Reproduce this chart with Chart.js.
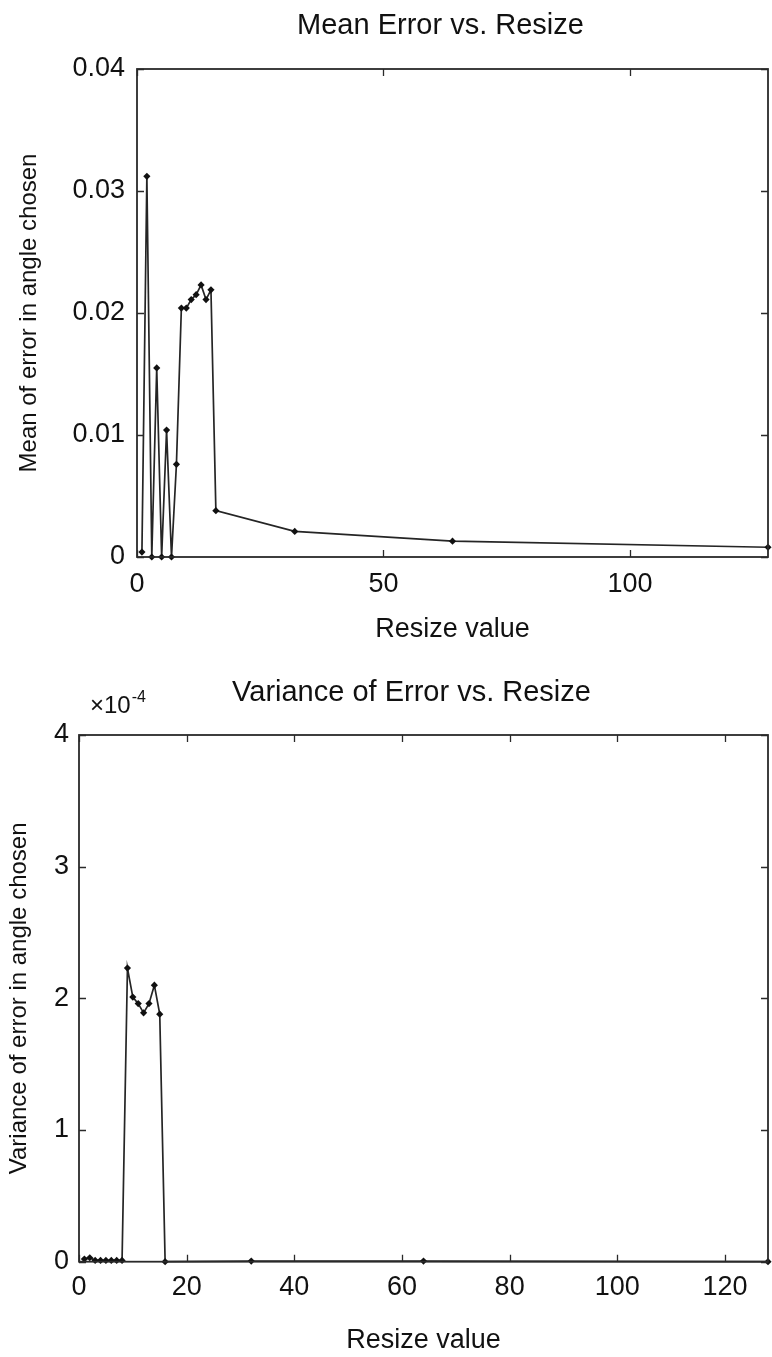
<!DOCTYPE html>
<html>
<head>
<meta charset="utf-8">
<script src="https://cdn.jsdelivr.net/npm/chart.js@4/dist/chart.umd.min.js"></script>
<style>
  html, body { margin: 0; padding: 0; background: #fff; }
  #wrap { position: relative; width: 772px; height: 1357px; }
  .box { position: absolute; left: 0; width: 772px; }
</style>
</head>
<body>
<div id="wrap">
  <div class="box" style="top:0;height:660px"><canvas id="c1"></canvas></div>
  <div class="box" style="top:660px;height:697px"><canvas id="c2"></canvas></div>
</div>
<script>
// ---- data ----
const resizeValues = [1,2,3,4,5,6,7,8,9,10,11,12,13,14,15,16,32,64,128];
const meanError = [0.0004,0.0312,0,0.0155,0,0.0104,0,0.0076,0.0204,0.0204,0.0211,0.0215,0.0223,0.0211,0.0219,0.0038,0.0021,0.0013,0.0008];
// variance in units of 1e-4
const varianceError = [0.02,0.03,0.01,0.01,0.01,0.01,0.01,0.01,2.23,2.01,1.96,1.89,1.96,2.10,1.88,0,0.005,0.005,0];
const meanXTicks = [0,50,100];
const meanYTicks = [0,0.01,0.02,0.03,0.04];
const varXTicks = [0,20,40,60,80,100,120];
const varYTicks = [0,1,2,3,4];

const FONT = "'Liberation Sans', Arial, Helvetica, sans-serif";
const INK = '#111';

const boxTicks = {
  id: 'boxTicks',
  afterDatasetsDraw(chart) {
    const {ctx, chartArea: a, scales} = chart;
    ctx.save();
    ctx.strokeStyle = '#2a2a2a';
    ctx.lineWidth = 1.3;
    const L = 7;
    ctx.beginPath();
    scales.x.ticks.forEach(t => {
      const px = Math.round(scales.x.getPixelForValue(t.value)) + 0.5;
      ctx.moveTo(px, a.bottom); ctx.lineTo(px, a.bottom - L);
      ctx.moveTo(px, a.top); ctx.lineTo(px, a.top + L);
    });
    scales.y.ticks.forEach(t => {
      const py = Math.round(scales.y.getPixelForValue(t.value)) + 0.5;
      ctx.moveTo(a.left, py); ctx.lineTo(a.left + L, py);
      ctx.moveTo(a.right, py); ctx.lineTo(a.right - L, py);
    });
    ctx.stroke();
    ctx.lineWidth = 1.8;
    ctx.strokeRect(a.left, a.top, a.right - a.left, a.bottom - a.top);
    ctx.restore();
  }
};

const headText = {
  id: 'headText',
  afterDraw(chart, args, opts) {
    const {ctx, chartArea: a} = chart;
    ctx.save();
    ctx.fillStyle = INK;
    ctx.textAlign = 'center';
    ctx.textBaseline = 'middle';
    ctx.font = `29px ${FONT}`;
    ctx.fillText(opts.title, (a.left + a.right) / 2 + opts.dx, opts.titleY);
    if (opts.exp) {
      ctx.textAlign = 'left';
      ctx.textBaseline = 'alphabetic';
      ctx.font = `24px ${FONT}`;
      ctx.fillText(opts.exp, opts.expX, opts.expY);
      const w = ctx.measureText(opts.exp).width;
      ctx.font = `16px ${FONT}`;
      ctx.fillText(opts.sup, opts.expX + w + 1, opts.expY - 11);
    }
    ctx.restore();
  }
};

function makeChart(id, cfg) {
  return new Chart(document.getElementById(id), {
    type: 'line',
    data: {
      datasets: [{
        data: resizeValues.map((x, i) => ({x, y: cfg.values[i]})),
        borderColor: '#252525',
        borderWidth: 1.7,
        pointStyle: 'rectRot',
        pointRadius: 3.6,
        pointBackgroundColor: '#111',
        pointBorderColor: '#111',
        pointBorderWidth: 0,
        tension: 0,
        fill: false,
        clip: false
      }]
    },
    options: {
      responsive: true,
      maintainAspectRatio: false,
      animation: false,
      events: [],
      layout: { padding: { left: 0, right: cfg.padRight, top: cfg.plotTop, bottom: 0 } },
      plugins: {
        legend: { display: false },
        tooltip: { enabled: false },
        title: { display: false },
        headText: cfg.head
      },
      scales: {
        x: {
          type: 'linear',
          min: 0, max: 128,
          afterBuildTicks: s => { s.ticks = cfg.xTicks.map(v => ({value: v})); },
          afterFit: s => { s.height = cfg.xAxisH; },
          grid: { display: false, drawTicks: false },
          border: { display: false },
          ticks: { color: INK, font: { family: FONT, size: 27 }, padding: cfg.xTickPad, maxRotation: 0, autoSkip: false },
          title: { display: true, text: 'Resize value', color: INK, font: { family: FONT, size: 27 }, padding: { top: 0, bottom: cfg.xTitlePad } }
        },
        y: {
          type: 'linear',
          min: cfg.yTicks[0], max: cfg.yTicks[cfg.yTicks.length - 1],
          afterBuildTicks: s => { s.ticks = cfg.yTicks.map(v => ({value: v})); },
          afterFit: s => { s.width = cfg.yAxisW; },
          grid: { display: false, drawTicks: false },
          border: { display: false },
          ticks: { color: INK, font: { family: FONT, size: 27 }, padding: cfg.yTickPad, autoSkip: false,
                   callback: v => String(v) },
          title: { display: true, text: cfg.yTitle, color: INK, font: { family: FONT, size: 24 }, padding: { top: cfg.yTitlePad, bottom: 0 } }
        }
      }
    },
    plugins: [boxTicks, headText]
  });
}

makeChart('c1', {
  values: meanError,
  plotTop: 69,
  head: { title: 'Mean Error vs. Resize', titleY: 26, dx: -12 },
  xTicks: meanXTicks, yTicks: meanYTicks,
  xAxisH: 103, yAxisW: 137, padRight: 4,
  xTickPad: 11, xTitlePad: 14,
  yTickPad: 12, yTitlePad: 15,
  yTitle: 'Mean of error in angle chosen'
});

makeChart('c2', {
  values: varianceError,
  plotTop: 75,
  head: { title: 'Variance of Error vs. Resize', titleY: 33, dx: -12, exp: '×10', sup: '-4', expX: 90, expY: 53 },
  xTicks: varXTicks, yTicks: varYTicks,
  xAxisH: 95.3, yAxisW: 79, padRight: 1,
  xTickPad: 10, xTitlePad: 0,
  yTickPad: 10, yTitlePad: 5,
  yTitle: 'Variance of error in angle chosen'
});
</script>
</body>
</html>
